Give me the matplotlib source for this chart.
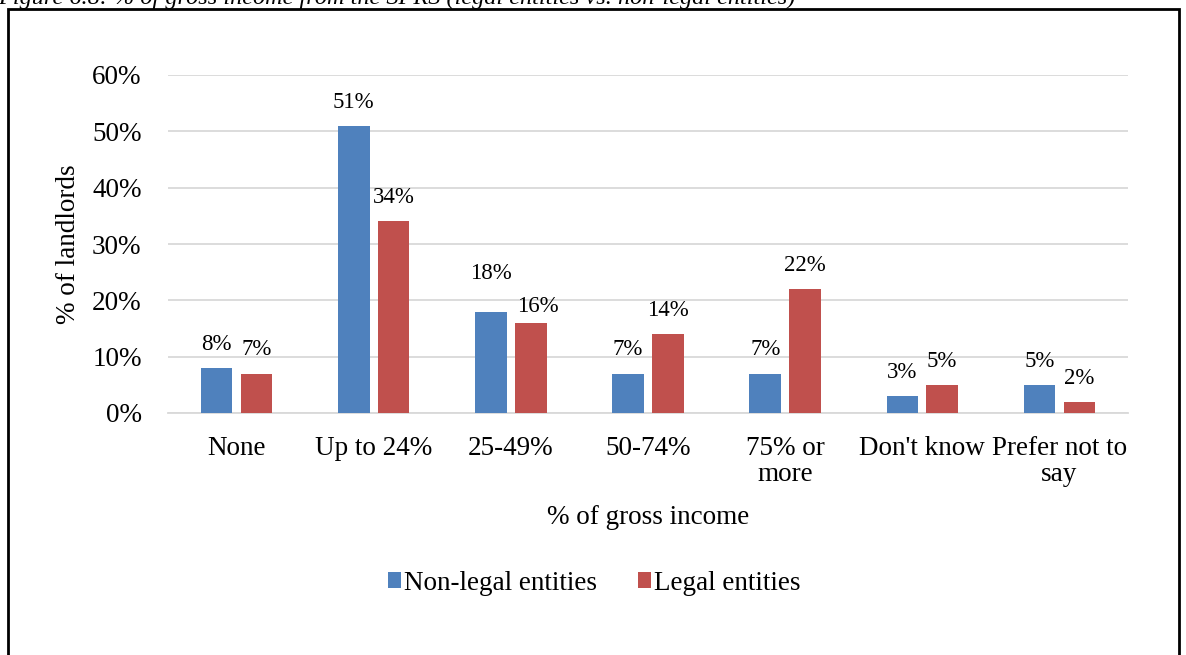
import matplotlib.pyplot as plt
import numpy as np
from matplotlib.patches import Rectangle
from matplotlib.ticker import PercentFormatter

# --- Data ---
categories = ["None", "Up to 24%", "25-49%", "50-74%", "75% or\nmore",
              "Don't know", "Prefer not to\nsay"]
non_legal = [8, 51, 18, 7, 7, 3, 5]
legal = [7, 34, 16, 14, 22, 5, 2]
series_names = ["Non-legal entities", "Legal entities"]
y_ticks = [0, 10, 20, 30, 40, 50, 60]

# labels moved apart where they would collide (pixels: dx, dy)
label_nudge = {(0, 2): (0, 14), (1, 2): (7, -7)}

plt.rcParams["font.family"] = ["Liberation Serif", "DejaVu Serif"]
FS = 19.5

fig = plt.figure(figsize=(11.86, 6.55), dpi=100)
ax = fig.add_axes([168 / 1186, 1 - 413 / 655, 960 / 1186, 338 / 655])

x = np.arange(len(categories))
width = 0.23
offset = 0.145
bars1 = ax.bar(x - offset, non_legal, width, color="#4F81BD", label=series_names[0], zorder=3)
bars2 = ax.bar(x + offset, legal, width, color="#C0504D", label=series_names[1], zorder=3)

for s, (bars, vals) in enumerate(((bars1, non_legal), (bars2, legal))):
    for i, (b, v) in enumerate(zip(bars, vals)):
        dx, dy = label_nudge.get((s, i), (0, 0))
        ax.annotate(f"{v}%", (b.get_x() + b.get_width() / 2, v),
                    xytext=(dx * 0.72, 9.5 + dy * 0.72), textcoords="offset points",
                    ha="center", va="bottom", fontsize=16.5)

ax.set_xlim(-0.5, len(categories) - 0.5)
ax.set_ylim(0, 60)
ax.set_yticks(y_ticks)
ax.yaxis.set_major_formatter(PercentFormatter(decimals=0))
ax.set_xticks(x)
ax.set_xticklabels(categories, fontsize=FS, linespacing=1.05)
ax.tick_params(axis="y", labelsize=FS, length=0, pad=19)
ax.tick_params(axis="x", length=0, pad=16.5)
ax.grid(axis="y", color="#d9d9d9", linewidth=1.3, zorder=0)
for side in ("top", "right", "left"):
    ax.spines[side].set_visible(False)
ax.spines["bottom"].set_color("#d9d9d9")
ax.spines["bottom"].set_linewidth(1.3)

ax.set_ylabel("% of landlords", fontsize=FS, labelpad=8)
ax.set_xlabel("% of gross income", fontsize=FS, labelpad=13)

fig.legend(loc="center", bbox_to_anchor=(594 / 1186, 1 - 583 / 655), ncol=2,
           frameon=False, fontsize=FS, handlelength=0.5, handleheight=0.5,
           handletextpad=0.1, columnspacing=1.5)

# Frame round the figure and the clipped caption above it
fig.patches.append(Rectangle((8 / 1186, -0.05), 1171 / 1186, 1.05 - 9 / 655,
                             transform=fig.transFigure, fill=False,
                             edgecolor="black", linewidth=2, clip_on=False))
fig.text(-2 / 1186, 1 - 4 / 655,
         "Figure 6.8: % of gross income from the SPRS (legal entities vs. non-legal entities)",
         fontsize=17.5, style="italic", ha="left", va="baseline")

fig.savefig("out.png", dpi=100)
